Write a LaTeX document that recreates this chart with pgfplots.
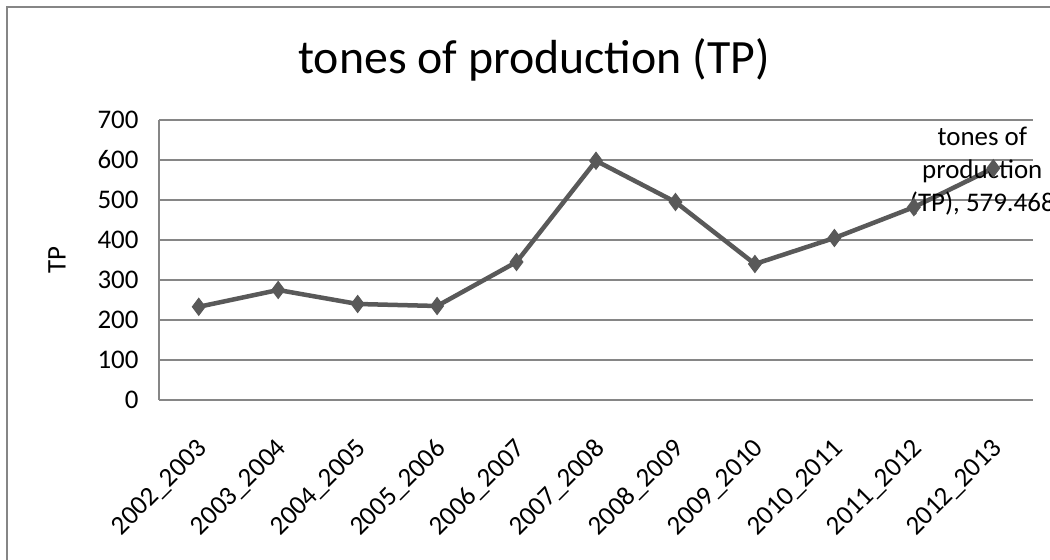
\documentclass[border=0pt]{standalone}
\usepackage{fontspec}
\setmainfont{Carlito}
\usepackage{pgfplots}
\pgfplotsset{compat=1.18}
\definecolor{linegray}{RGB}{89,89,89}
\definecolor{gridgray}{RGB}{134,134,134}
\begin{document}
\begin{tikzpicture}[x=1bp,y=1bp]
\clip (0,0) rectangle (1050,560);
\fill[white] (0,0) rectangle (1050,560);
\draw[gridgray, line width=1.2bp] (7,553) rectangle (1080,-20);
\node[font=\fontsize{48}{56}\selectfont, anchor=base] at (534,486) {tones of production (TP)};
\begin{axis}[
  at={(159bp,160bp)}, anchor=south west,
  width=874bp, height=280bp, scale only axis,
  xmin=-0.5, xmax=10.5, ymin=0, ymax=700,
  axis x line=bottom, axis y line=left,
  axis line style={gridgray, line width=1.5bp, -},
  ytick distance=100,
  xtick={0,...,10},
  xticklabels={2002\_2003,2003\_2004,2004\_2005,2005\_2006,2006\_2007,2007\_2008,2008\_2009,2009\_2010,2010\_2011,2011\_2012,2012\_2013},
  major tick length=0pt,
  ymajorgrids, grid style={gridgray, line width=1.5bp},
  /pgf/number format/assume math mode=true,
  tick label style={font=\fontsize{27}{32}\selectfont},
  yticklabel style={xshift=-17bp},
  xticklabel style={yshift=-37bp, xshift=-3bp, rotate=45, anchor=north east, inner sep=0pt},
  ylabel={TP},
  every axis y label/.style={at={(axis description cs:-0.1167,0.5)}, rotate=90, anchor=center, font=\fontsize{27}{32}\selectfont},
  clip=false,
]
\addplot[linegray, line width=4.5bp, mark=diamond*, mark size=8.5bp,
  mark options={solid, fill=linegray, draw=linegray, line width=1bp}]
  coordinates {(0,233) (1,275) (2,240) (3,235) (4,345) (5,598) (6,495) (7,340) (8,405) (9,482) (10,579.468)};
\node[font=\fontsize{27}{33}\selectfont, align=center, anchor=center, xshift=-11bp, yshift=-3bp]
  at (axis cs:10,579.468) {tones of\\production\\(TP), 579.468};
\end{axis}
\end{tikzpicture}
\end{document}
